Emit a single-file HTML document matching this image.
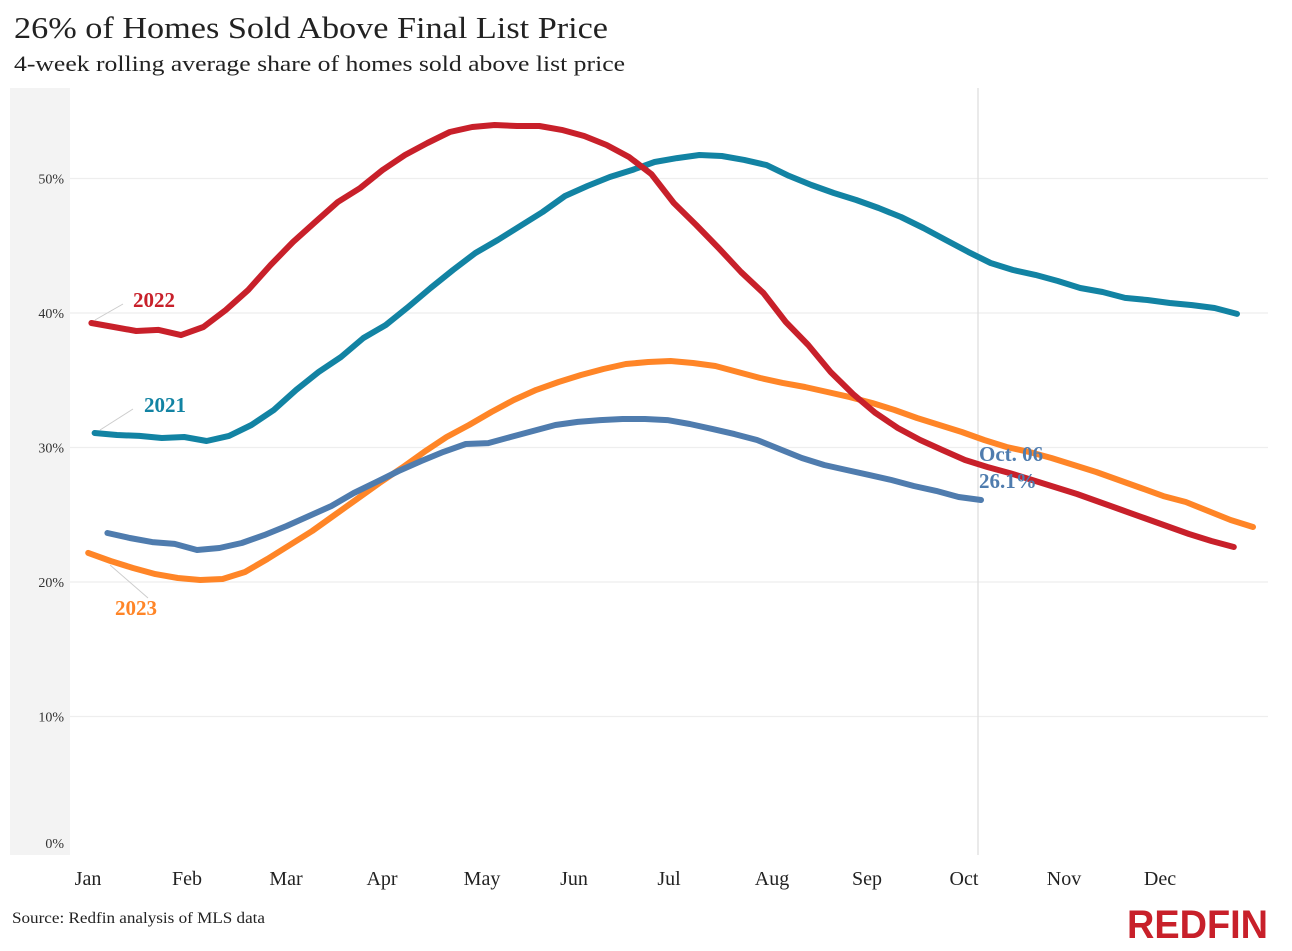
<!DOCTYPE html>
<html><head><meta charset="utf-8"><style>
html,body{margin:0;padding:0;background:#fff;}
svg{display:block;font-family:"Liberation Serif",serif;}
</style></head><body>
<svg width="1292" height="951" viewBox="0 0 1292 951">
<text x="14" y="38" font-size="31" fill="#222" textLength="594" lengthAdjust="spacingAndGlyphs">26% of Homes Sold Above Final List Price</text>
<text x="14" y="71" font-size="22" fill="#222" textLength="611" lengthAdjust="spacingAndGlyphs">4-week rolling average share of homes sold above list price</text>
<rect x="10" y="88" width="60" height="767" fill="#f3f3f3"/>
<g id="grid"></g>
<line x1="978" y1="88" x2="978" y2="855" stroke="#ddd" stroke-width="1.2"/>
<g id="lines"></g>
<g id="xlabels"></g>
<line x1="95" y1="320" x2="123" y2="304" stroke="#ccc" stroke-width="1"/>
<text x="133" y="307" font-size="21" font-weight="bold" fill="#c8202a">2022</text>
<line x1="100" y1="430" x2="133" y2="409" stroke="#ccc" stroke-width="1"/>
<text x="144" y="412" font-size="21" font-weight="bold" fill="#1283a3">2021</text>
<line x1="110" y1="565" x2="148" y2="598" stroke="#ccc" stroke-width="1"/>
<text x="115" y="615" font-size="21" font-weight="bold" fill="#ff8527">2023</text>
<text x="979" y="461" font-size="21" font-weight="bold" fill="#4f7cae">Oct. 06</text>
<text x="979" y="488" font-size="21" font-weight="bold" fill="#4f7cae">26.1%</text>
<text x="12" y="923" font-size="16" fill="#222" textLength="253" lengthAdjust="spacingAndGlyphs">Source: Redfin analysis of MLS data</text>
<text x="1127" y="938" font-size="40" font-weight="bold" fill="#c8202a" font-family="Liberation Sans, sans-serif" textLength="141" lengthAdjust="spacingAndGlyphs">REDFIN</text>
</svg>
<script>
const yTicks=[0,10,20,30,40,50];
const months=["Jan","Feb","Mar","Apr","May","Jun","Jul","Aug","Sep","Oct","Nov","Dec"];
const monthX=[88,187,286,382,482,574,669,772,867,964,1064,1160];
const start2021=3, start2022=2, start2023=1, start2024=7;
const s2021=[31.08,30.93,30.86,30.71,30.78,30.48,30.86,31.67,32.79,34.28,35.61,36.73,38.14,39.11,40.45,41.86,43.2,44.46,45.43,46.47,47.51,48.7,49.44,50.11,50.63,51.23,51.52,51.75,51.67,51.38,51.0,50.19,49.52,48.92,48.4,47.81,47.14,46.32,45.43,44.54,43.72,43.2,42.83,42.38,41.86,41.56,41.12,40.97,40.74,40.59,40.37,39.93];
const s2022=[39.26,38.96,38.66,38.74,38.36,38.96,40.22,41.71,43.57,45.28,46.77,48.25,49.29,50.63,51.75,52.64,53.46,53.83,53.98,53.9,53.9,53.61,53.16,52.49,51.6,50.33,48.18,46.54,44.83,43.05,41.49,39.33,37.62,35.61,33.98,32.57,31.45,30.56,29.81,29.07,28.55,28.1,27.58,27.06,26.54,25.95,25.35,24.76,24.16,23.57,23.05,22.6];
const s2023=[22.16,21.56,21.04,20.59,20.3,20.15,20.22,20.74,21.71,22.75,23.79,24.98,26.17,27.36,28.48,29.67,30.78,31.67,32.64,33.53,34.28,34.87,35.39,35.84,36.21,36.36,36.43,36.28,36.06,35.61,35.17,34.8,34.5,34.13,33.75,33.31,32.79,32.19,31.67,31.15,30.56,30.04,29.67,29.22,28.7,28.18,27.58,26.99,26.39,25.95,25.28,24.61,24.09];
const s2024=[23.64,23.27,22.97,22.83,22.38,22.53,22.9,23.49,24.16,24.91,25.65,26.62,27.43,28.25,28.99,29.67,30.26,30.33,30.78,31.23,31.67,31.9,32.04,32.12,32.12,32.04,31.75,31.38,31.0,30.56,29.89,29.22,28.7,28.33,27.96,27.58,27.14,26.77,26.32,26.1];
const NS="http://www.w3.org/2000/svg";
function y(v){return 851-v*13.45;}
function x(day){return 85+day*3.2;}
const grid=document.getElementById('grid');
yTicks.forEach(t=>{
  if(t>0){const l=document.createElementNS(NS,'line');
  l.setAttribute('x1',70);l.setAttribute('x2',1268);l.setAttribute('y1',y(t));l.setAttribute('y2',y(t));
  l.setAttribute('stroke','#eeeeee');l.setAttribute('stroke-width','1.2');
  
  
  grid.appendChild(l);}
  const tx=document.createElementNS(NS,'text');
  tx.setAttribute('x',64);tx.setAttribute('y',t===0?y(t)-3:y(t)+5);
  tx.setAttribute('text-anchor','end');tx.setAttribute('font-size','14');tx.setAttribute('fill','#333');
  tx.textContent=t+'%';
  
  
  grid.appendChild(tx);
});
const xl=document.getElementById('xlabels');
months.forEach((m,i)=>{
  const tx=document.createElementNS(NS,'text');
  tx.setAttribute('x',monthX[i]);tx.setAttribute('y',885);tx.setAttribute('text-anchor','middle');
  tx.setAttribute('font-size','20');tx.setAttribute('fill','#222');tx.textContent=m;
  
  
  xl.appendChild(tx);
});
const lines=document.getElementById('lines');
function draw(vals,startDay,color,name){
  const p=document.createElementNS(NS,'polyline');
  p.setAttribute('points',vals.map((v,i)=>x(startDay+i*7).toFixed(1)+','+y(v).toFixed(1)).join(' '));
  p.setAttribute('fill','none');p.setAttribute('stroke',color);p.setAttribute('stroke-width','6');
  p.setAttribute('stroke-linejoin','round');p.setAttribute('stroke-linecap','round');
  
  
  lines.appendChild(p);
}
draw(s2021,start2021,'#1283a3','line-2021');
draw(s2023,start2023,'#ff8527','line-2023');
draw(s2022,start2022,'#c8202a','line-2022');
draw(s2024,start2024,'#4f7cae','line-2024');
</script>
</body></html>
